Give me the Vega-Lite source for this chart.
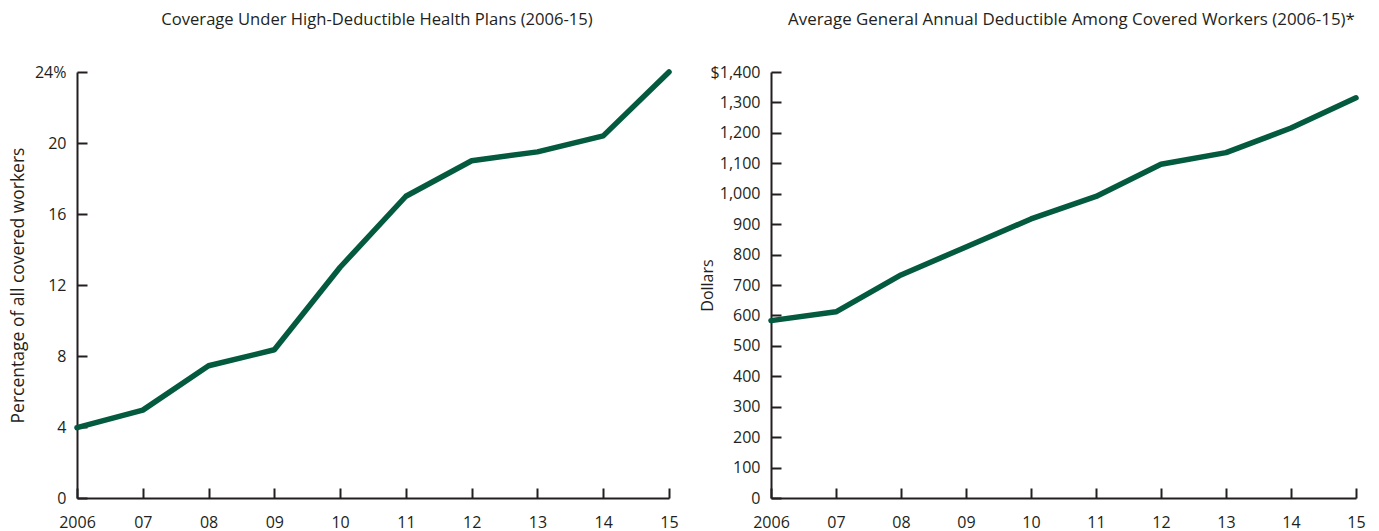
{
  "$schema": "https://vega.github.io/schema/vega-lite/v6.json",
  "autosize": {"type": "pad"},
  "padding": {"left": 9, "top": 11, "right": 5, "bottom": 3},
  "background": "white",
  "bounds": "flush",
  "spacing": 102,
  "config": {
    "font": "Open Sans",
    "view": {"stroke": null},
    "axis": {
      "grid": false,
      "domainColor": "#231f20",
      "domainWidth": 2,
      "tickColor": "#231f20",
      "tickWidth": 2,
      "tickSize": -10,
      "labelFont": "Open Sans",
      "labelFontSize": 16,
      "labelColor": "#231f20",
      "titleFont": "Open Sans",
      "titleFontSize": 16,
      "titleFontWeight": "normal",
      "titleColor": "#231f20"
    },
    "title": {"font": "Open Sans", "fontSize": 16.6, "fontWeight": "normal", "color": "#231f20", "frame": "group", "anchor": "middle", "baseline": "alphabetic", "offset": 35}
  },
  "datasets": {
    "hdhp": [
      {"year": 2006, "value": 3.96},
      {"year": 2007, "value": 4.95},
      {"year": 2008, "value": 7.45},
      {"year": 2009, "value": 8.35},
      {"year": 2010, "value": 13.0},
      {"year": 2011, "value": 17.0},
      {"year": 2012, "value": 19.0},
      {"year": 2013, "value": 19.5},
      {"year": 2014, "value": 20.4},
      {"year": 2015, "value": 24.0}
    ],
    "deductible": [
      {"year": 2006, "value": 583},
      {"year": 2007, "value": 612},
      {"year": 2008, "value": 733},
      {"year": 2009, "value": 825},
      {"year": 2010, "value": 917},
      {"year": 2011, "value": 991},
      {"year": 2012, "value": 1097},
      {"year": 2013, "value": 1135},
      {"year": 2014, "value": 1216},
      {"year": 2015, "value": 1315}
    ]
  },
  "hconcat": [
    {
      "width": 592,
      "height": 426,
      "title": {"text": "Coverage Under High-Deductible Health Plans (2006-15)", "dx": 4},
      "data": {"name": "hdhp"},
      "mark": {"type": "line", "color": "#045a3e", "strokeWidth": 5.5, "strokeCap": "round", "strokeJoin": "round", "clip": false},
      "encoding": {
        "x": {
          "field": "year", "type": "quantitative",
          "scale": {"domain": [2006, 2015], "nice": false, "zero": false},
          "axis": {"title": null, "values": [2006, 2007, 2008, 2009, 2010, 2011, 2012, 2013, 2014, 2015], "labelPadding": 26,
                   "labelExpr": "datum.value == 2006 ? '2006' : slice(toString(datum.value), 2)", "labelFlush": false, "labelOverlap": false}
        },
        "y": {
          "field": "value", "type": "quantitative",
          "scale": {"domain": [0, 24], "nice": false},
          "axis": {"title": "Percentage of all covered workers", "titleFontSize": 17.5, "values": [0, 4, 8, 12, 16, 20, 24], "labelPadding": 21,
                   "labelExpr": "datum.value == 24 ? '24%' : datum.label", "titleX": -50, "labelFlush": false, "labelOverlap": false}
        }
      }
    },
    {
      "width": 585,
      "height": 426,
      "title": {"text": "Average General Annual Deductible Among Covered Workers (2006-15)*", "dx": 8, "fontSize": 16.9},
      "data": {"name": "deductible"},
      "mark": {"type": "line", "color": "#045a3e", "strokeWidth": 5.5, "strokeCap": "round", "strokeJoin": "round", "clip": false},
      "encoding": {
        "x": {
          "field": "year", "type": "quantitative",
          "scale": {"domain": [2006, 2015], "nice": false, "zero": false},
          "axis": {"title": null, "values": [2006, 2007, 2008, 2009, 2010, 2011, 2012, 2013, 2014, 2015], "labelPadding": 26,
                   "labelExpr": "datum.value == 2006 ? '2006' : slice(toString(datum.value), 2)", "labelFlush": false, "labelOverlap": false}
        },
        "y": {
          "field": "value", "type": "quantitative",
          "scale": {"domain": [0, 1400], "nice": false},
          "axis": {"title": "Dollars", "values": [0, 100, 200, 300, 400, 500, 600, 700, 800, 900, 1000, 1100, 1200, 1300, 1400], "labelPadding": 21,
                   "labelExpr": "datum.value == 1400 ? '$1,400' : datum.label", "titleX": -56, "labelFlush": false, "labelOverlap": false}
        }
      }
    }
  ]
}
